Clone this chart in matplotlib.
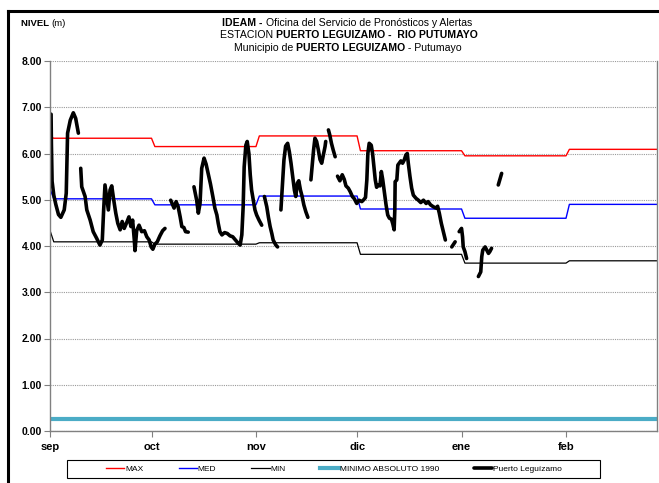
import numpy as np
import matplotlib
matplotlib.use("Agg")
import matplotlib.pyplot as plt
from matplotlib.lines import Line2D
from matplotlib.patches import Rectangle
from matplotlib import font_manager

# fuente angosta tipo Arial Narrow si existe
nombres = {f.name for f in font_manager.fontManager.ttflist}
fuente = 'Liberation Sans Narrow' if 'Liberation Sans Narrow' in nombres else 'Liberation Sans'
plt.rcParams['font.family'] = [fuente, 'DejaVu Sans']

# ---- datos ----
meses = ['sep', 'oct', 'nov', 'dic', 'ene', 'feb']
inicio_mes = [0, 30, 61, 91, 122, 153]          # dias desde 1 sep

# valores de referencia mensuales (ago, sep, oct, nov, dic, ene, feb, mar)
dias_mes = [1, 30, 31, 30, 31, 31, 28, 1]
nivel_max = [6.36, 6.33, 6.15, 6.38, 6.06, 5.95, 6.09, 6.23]
nivel_med = [5.21, 5.02, 4.89, 5.08, 4.80, 4.60, 4.90, 5.01]
nivel_min = [4.31, 4.09, 4.04, 4.07, 3.82, 3.63, 3.68, 3.88]
minimo_abs = 0.27

# niveles observados Puerto Leguizamo (nan = sin dato)
dia_obs = [0.2, 0.3, 0.5, 1.0, 1.6, 2.4, 3.1, 4.1, 4.7, 5.1, 5.9, 6.8, 7.5, 8.3, np.nan,
           9.0, 9.3, 10.3, 10.8, 11.8, 12.7, 13.7, 14.7, 15.4, 15.8, 16.2, 16.8, 17.2, 17.7,
           18.2, 18.8, 19.4, 20.0, 20.7, 21.3, 21.9, 22.6, 23.3, 23.9, 24.4, 24.9, 25.1,
           25.6, 26.3, 27.1, 27.9, 28.6, 29.3, 29.9, 30.4, 31.0, 31.7, 32.5, 33.3, 34.0, np.nan,
           35.7, 36.7, 37.3, 37.9, 38.5, 39.0, 39.6, 40.1, 40.9, np.nan,
           42.6, 43.4, 43.9, 44.4, 44.9, 45.6, 46.2, 46.9, 47.5, 48.2, 48.8, 49.4, 49.8,
           50.3, 50.9, 51.7, 52.5, 53.3, 54.1, 54.9, 55.6, 56.3, 56.8, 57.2, 57.5, 58.0,
           58.4, 58.9, 59.3, 59.7, 60.2, 60.7, 61.2, 61.9, 62.7, np.nan,
           63.5, 64.2, 64.7, 65.2, 65.7, 66.1, 66.9, 67.4, np.nan,
           68.4, 68.9, 69.3, 69.8, 70.4, 70.9, 71.4, 71.9, 72.4, 72.8, 73.3, 73.7, 74.2,
           74.7, 75.2, 75.8, 76.4, np.nan,
           77.3, 77.7, 78.1, 78.5, 79.0, 79.5, 80.0, 80.5, 81.0, 81.5, 81.7, np.nan,
           82.5, 82.9, 83.4, 83.9, 84.5, np.nan,
           85.2, 85.9, 86.6, 87.2, 87.7, 88.4, 89.0, 89.6, 90.2, 90.9, 91.6, 92.4, 93.1,
           93.5, 93.9, 94.2, 94.6, 95.2, 95.6, 96.0, 96.4, 96.8, 97.3, 97.8, 98.2, 98.6,
           99.1, 99.6, 100.1, 100.6, 101.2, 101.6, 102.0, 102.2, 102.3, 102.8, 103.1, 103.5,
           104.0, 104.5, 105.0, 105.5, 105.9, 106.2, 106.7, 107.2, 107.7, 108.5, 109.2,
           109.9, 110.7, 111.5, 112.1, 112.8, 113.6, 114.4, 114.9, 115.4, 116.0, 116.6,
           117.2, np.nan,
           119.1, 120.1, np.nan,
           121.3, 122.0, 122.3, 122.5, 123.0, 123.5, np.nan,
           127.0, 127.7, 128.0, 128.3, 129.0, 129.5, 130.0, 130.4, 130.9, np.nan,
           132.9, 133.9]
nivel_obs = [6.85, 6.20, 5.40, 5.10, 4.90, 4.68, 4.62, 4.78, 5.14, 6.44, 6.72, 6.88, 6.76, 6.44, np.nan,
             5.68, 5.28, 5.07, 4.78, 4.56, 4.31, 4.17, 4.02, 4.13, 4.78, 5.32, 4.99, 4.78, 5.21,
             5.30, 4.99, 4.71, 4.49, 4.35, 4.53, 4.38, 4.50, 4.63, 4.42, 4.56, 4.13, 3.90,
             4.33, 4.45, 4.31, 4.33, 4.20, 4.13, 3.98, 3.93, 4.04, 4.09, 4.22, 4.33, 4.38, np.nan,
             4.99, 4.82, 4.96, 4.85, 4.63, 4.42, 4.40, 4.31, 4.30, np.nan,
             5.28, 4.99, 4.71, 4.92, 5.68, 5.90, 5.77, 5.54, 5.34, 5.07, 4.82, 4.67, 4.49,
             4.31, 4.24, 4.29, 4.27, 4.22, 4.20, 4.13, 4.07, 4.02, 4.24, 4.85, 5.71, 6.18,
             6.26, 6.00, 5.54, 5.21, 4.99, 4.78, 4.67, 4.56, 4.45, np.nan,
             5.07, 4.85, 4.62, 4.42, 4.27, 4.13, 4.02, 3.98, np.nan,
             4.78, 5.36, 5.86, 6.16, 6.22, 6.04, 5.79, 5.50, 5.21, 5.07, 5.36, 5.41, 5.21,
             5.07, 4.89, 4.74, 4.62, np.nan,
             5.43, 5.75, 6.08, 6.33, 6.26, 6.08, 5.87, 5.79, 5.97, 6.15, 6.26, np.nan,
             6.51, 6.40, 6.22, 6.08, 5.93, np.nan,
             5.51, 5.41, 5.54, 5.44, 5.30, 5.25, 5.17, 5.07, 5.02, 4.92, 4.99, 4.96, 5.01,
             5.05, 5.43, 6.00, 6.22, 6.18, 6.00, 5.71, 5.43, 5.27, 5.32, 5.30, 5.61, 5.44,
             5.17, 4.89, 4.67, 4.60, 4.58, 4.48, 4.35, 4.78, 5.39, 5.43, 5.75, 5.79,
             5.84, 5.79, 5.86, 5.97, 6.00, 5.79, 5.50, 5.25, 5.10, 5.03, 4.99,
             4.94, 4.99, 4.92, 4.96, 4.89, 4.85, 4.82, 4.86, 4.71, 4.49, 4.31,
             4.13, np.nan,
             3.98, 4.09, np.nan,
             4.31, 4.38, 4.20, 3.98, 3.88, 3.73, np.nan,
             3.34, 3.44, 3.77, 3.91, 3.98, 3.91, 3.84, 3.88, 3.95, np.nan,
             5.32, 5.57]

# series diarias de referencia
ref_max = np.repeat(nivel_max, dias_mes)
ref_med = np.repeat(nivel_med, dias_mes)
ref_min = np.repeat(nivel_min, dias_mes)
dias_ref = np.arange(len(ref_max))


def linea_mixta(fig, x_centro, y, partes, size):
    # escribe una linea con partes en negrilla y normales, centrada
    r = fig.canvas.get_renderer()
    textos = []
    for txt, peso in partes:
        t = fig.text(0, y, txt, fontsize=size, fontweight=peso, va='center', ha='left')
        textos.append(t)
    anchos = [t.get_window_extent(r).width for t in textos]
    W = fig.get_figwidth() * fig.dpi
    x = x_centro - sum(anchos) / 2
    for t, w in zip(textos, anchos):
        t.set_x(x / W)
        x += w


W, H = 659, 483
fig = plt.figure(figsize=(W / 100, H / 100), dpi=100)
ax = fig.add_axes([50.4 / W, 52 / H, 606.6 / W, 370 / H])

ax.plot(dias_ref, ref_max, color='#FF0000', lw=1.0, label='MAX')
ax.plot(dias_ref, ref_med, color='#0000FF', lw=1.0, label='MED')
ax.plot(dias_ref, ref_min, color='black', lw=0.9, label='MIN')
ax.plot([dias_ref[0], dias_ref[-1]], [minimo_abs, minimo_abs], color='#4BACC6', lw=3.0,
        label='MINIMO ABSOLUTO 1990')
ax.plot(dia_obs, nivel_obs, color='black', lw=2.6, solid_capstyle='round',
        solid_joinstyle='round', label='Puerto Leguízamo')

ax.set_xlim(0, 180)
ax.set_ylim(0, 8)
ax.set_yticks(np.arange(0, 9, 1))
ax.set_yticklabels([f'{v:.2f}' for v in np.arange(0, 9, 1)], fontsize=7.5, fontweight='bold')
ax.set_xticks(inicio_mes)
ax.set_xticklabels(meses, fontsize=8, fontweight='bold')
ax.tick_params(axis='y', length=4, width=0.8, color='#808080', pad=2)
ax.tick_params(axis='x', length=4, width=0.8, color='#808080', pad=4)
ax.grid(axis='y', linestyle=(0, (1, 1)), color='#9a9a9a', lw=0.8)
for lado in ['left', 'bottom', 'right']:
    ax.spines[lado].set_color('#808080')
    ax.spines[lado].set_linewidth(1.0)
ax.spines['top'].set_visible(False)

# titulo
linea_mixta(fig, 347, 1 - 23 / H, [('IDEAM - ', 'bold'),
                                   ('Oficina del Servicio de Pronósticos y Alertas', 'normal')], 7.6)
linea_mixta(fig, 349, 1 - 35.5 / H, [('ESTACION ', 'normal'),
                                     ('PUERTO LEGUIZAMO -  RIO PUTUMAYO', 'bold')], 7.6)
linea_mixta(fig, 348, 1 - 48 / H, [('Municipio de ', 'normal'), ('PUERTO LEGUIZAMO', 'bold'),
                                   (' - Putumayo', 'normal')], 7.6)
linea_mixta(fig, 43, 1 - 24 / H, [('NIVEL ', 'bold'), ('(m)', 'normal')], 6.8)

# marco de la figura
fig.add_artist(Line2D([8 / W, 8 / W], [0, 1 - 11 / H], color='black', lw=2.2,
                      transform=fig.transFigure))
fig.add_artist(Line2D([8 / W, 1], [1 - 11 / H, 1 - 11 / H], color='black', lw=2.2,
                      transform=fig.transFigure))

# leyenda (caja dibujada aparte)
fig.add_artist(Rectangle((67 / W, 5 / H), 533 / W, 18 / H, transform=fig.transFigure,
                         facecolor='white', edgecolor='black', lw=0.8))
handles, labels = ax.get_legend_handles_labels()
leg = fig.legend(handles, labels, loc='center', ncol=5,
                 bbox_to_anchor=(334 / W, 14 / H), fontsize=6,
                 handlelength=2.2, handletextpad=0.1, columnspacing=4.2,
                 frameon=False)

fig.savefig('out.png', dpi=100)
